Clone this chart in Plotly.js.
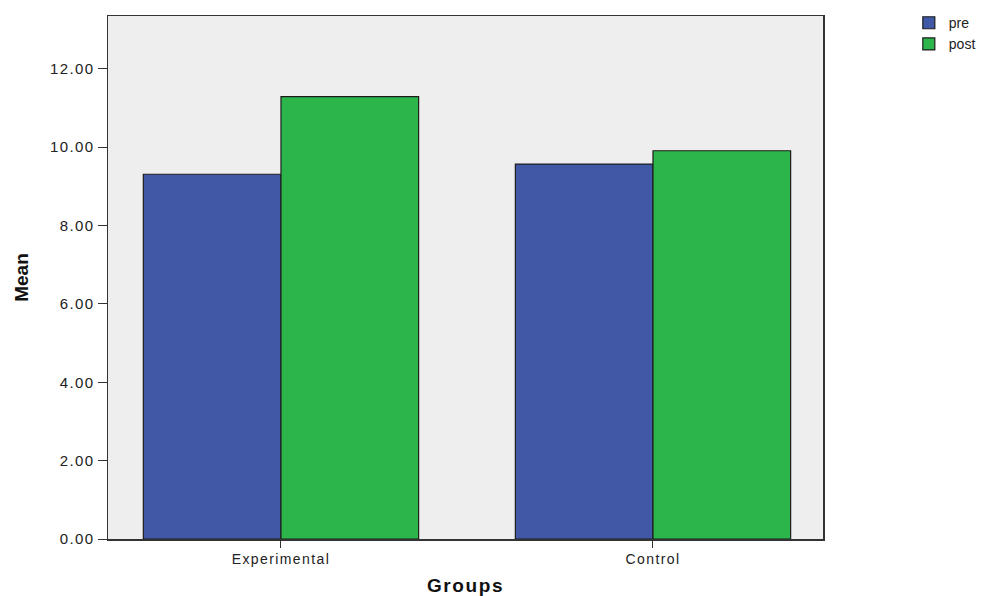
<!DOCTYPE html>
<html>
<head>
<meta charset="utf-8">
<script src="https://cdn.plot.ly/plotly-3.0.1.min.js"></script>
<style>
html,body{margin:0;padding:0;background:#fff;}
#chart{width:990px;height:596px;}
.xtick text, .ytick text {letter-spacing:1.4px;}
.xtitle {letter-spacing:1.6px;}
</style>
</head>
<body>
<div id="chart"></div>
<script>
const categories = ["Experimental", "Control"];
const preValues = [9.31, 9.57];
const postValues = [11.29, 9.91];
const yTickValues = [0, 2, 4, 6, 8, 10, 12];
const yTickLabels = ["0.00", "2.00", "4.00", "6.00", "8.00", "10.00", "12.00"];

const traces = [
  {type: "bar", name: "pre", x: categories, y: preValues,
   marker: {color: "#4058A6", line: {color: "#1c1c1c", width: 1.2}}},
  {type: "bar", name: "post", x: categories, y: postValues,
   marker: {color: "#2BB54A", line: {color: "#1c1c1c", width: 1.2}}}
];

const layout = {
  width: 990, height: 596,
  margin: {l: 108, r: 167, t: 16, b: 57},
  paper_bgcolor: "#ffffff",
  plot_bgcolor: "#EFEEEE",
  barmode: "group",
  bargap: 0.26,
  bargroupgap: 0,
  font: {family: "Liberation Sans, Arial, sans-serif", color: "#222"},
  xaxis: {
    type: "category",
    range: [-0.465, 1.457],
    showline: true, linecolor: "#333", linewidth: 1.5, mirror: true,
    ticks: "outside", ticklen: 7, tickcolor: "#333",
    tickfont: {size: 14, color: "#222"},
    showgrid: false, zeroline: false,
    title: {text: "Groups", font: {size: 19, family: "Liberation Sans, Arial, sans-serif", weight: "bold", color: "#111"}, standoff: 12}
  },
  yaxis: {
    range: [0, 13.35],
    tickvals: yTickValues, ticktext: yTickLabels,
    showline: true, linecolor: "#333", linewidth: 1.5, mirror: true,
    ticks: "outside", ticklen: 9, tickcolor: "#333",
    tickfont: {size: 15, color: "#222"},
    showgrid: false, zeroline: false,
    title: {text: "Mean", font: {size: 19, family: "Liberation Sans Narrow, Liberation Sans, Arial, sans-serif", weight: "bold", color: "#111"}, standoff: 16}
  },
  legend: {
    xref: "container", yref: "container",
    x: 0.918, y: 0.988, xanchor: "left", yanchor: "top",
    font: {size: 14, color: "#222"},
    tracegroupgap: 0,
    bgcolor: "rgba(0,0,0,0)"
  },
  showlegend: true
};

Plotly.newPlot("chart", traces, layout, {displayModeBar: false, staticPlot: true});
</script>
</body>
</html>
